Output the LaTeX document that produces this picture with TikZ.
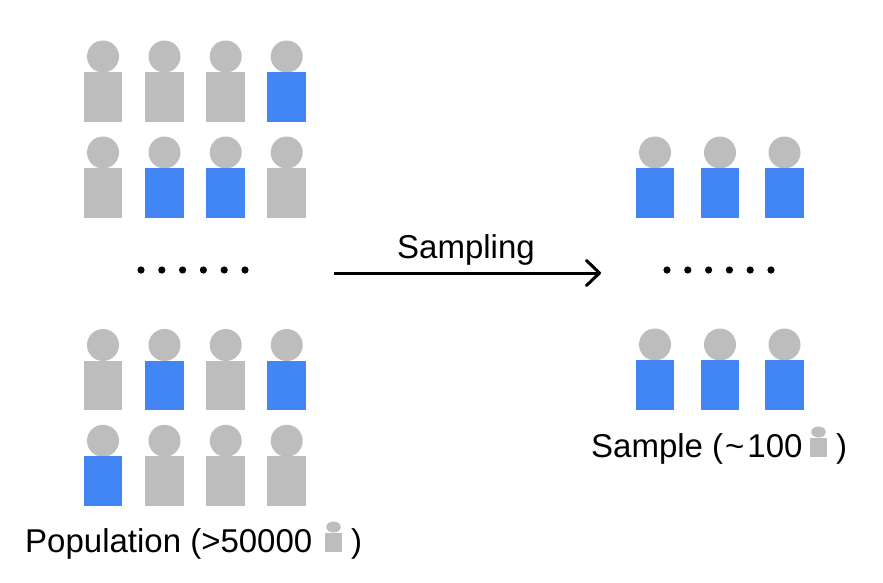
\documentclass[tikz,border=0pt]{standalone}
\usepackage{fontspec}
\setmainfont{Liberation Sans}
\usepackage{xcolor}
\usetikzlibrary{arrows.meta,positioning}
\definecolor{headgray}{HTML}{BDBDBD}
\definecolor{bodyblue}{HTML}{4285F4}
\tikzset{
  label text/.style={inner sep=0pt,anchor=base west,font=\fontsize{33}{36}\selectfont,text=black},
  dot/.style={fill=black},
}
% x of the head centre, y of the body top, body colour
\newcommand{\person}[3]{
  \fill[headgray] (#1,#2-15.5) circle (16);
  \fill[#3] (#1-19.3,#2) rectangle (#1+19.3,#2+49.5);
}
\newcommand{\smallperson}[2]{
  \fill[headgray] (#1,#2-6) ellipse (7.3 and 5.5);
  \fill[headgray] (#1-8.5,#2) rectangle (#1+8.5,#2+19);
}

\begin{document}
\begin{tikzpicture}[x=1pt,y=-1pt]
  \useasboundingbox (0,0) rectangle (883,582);

  % Population, top rows
  \person{103}{72}{headgray}
  \person{164.5}{72}{headgray}
  \person{225.7}{72}{headgray}
  \person{286.7}{72}{bodyblue}
  \person{103}{168}{headgray}
  \person{164.5}{168}{bodyblue}
  \person{225.7}{168}{bodyblue}
  \person{286.7}{168}{headgray}

  % Population, bottom rows
  \person{103}{360.5}{headgray}
  \person{164.5}{360.5}{bodyblue}
  \person{225.7}{360.5}{headgray}
  \person{286.7}{360.5}{bodyblue}
  \person{103}{456.3}{bodyblue}
  \person{164.5}{456.3}{headgray}
  \person{225.7}{456.3}{headgray}
  \person{286.7}{456.3}{headgray}

  % Sample
  \person{655}{168}{bodyblue}
  \person{720}{168}{bodyblue}
  \person{784.5}{168}{bodyblue}
  \person{655}{360}{bodyblue}
  \person{720}{360}{bodyblue}
  \person{784.5}{360}{bodyblue}

  % Dots between the rows
  \fill[dot] (141,270) circle (3.6) (161.8,270) circle (3.6) (182.6,270) circle (3.6)
    (203.4,270) circle (3.6) (224.2,270) circle (3.6) (245,270) circle (3.6);
  \fill[dot] (667,270) circle (3.6) (687.8,270) circle (3.6) (708.6,270) circle (3.6)
    (729.4,270) circle (3.6) (750.2,270) circle (3.6) (771,270) circle (3.6);

  % Sampling arrow
  \coordinate (from) at (334,273);
  \coordinate (to) at (601,273);
  \draw[-{Straight Barb[length=13pt,width=25pt,line width=3pt,round]},line width=3pt] (from) -- (to);
  \node[label text] (sampling) at (397,258) {Sampling};

  % Captions
  \node[label text] (population) at (25,552) {Population (>50000};
  \smallperson{333.5}{533}
  \node[label text] (populationend) at (351,552) {)};
  \node[label text] (sample) at (591,457) {Sample (\kern2pt\char`\~\kern3pt 100};
  \smallperson{818.5}{438}
  \node[label text] (sampleend) at (836,457) {)};
\end{tikzpicture}
\end{document}
